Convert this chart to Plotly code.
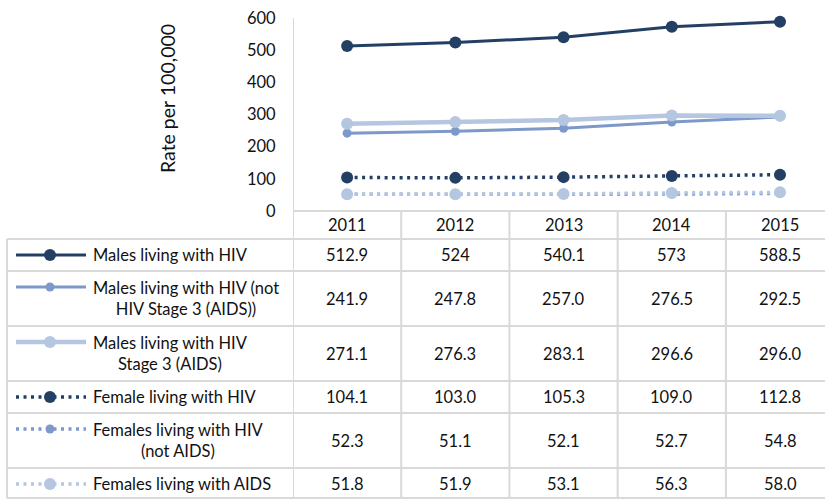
import plotly.graph_objects as go

# ---------------- data ----------------
years = ["2011", "2012", "2013", "2014", "2015"]
series_names = [
    "Males living with HIV",
    "Males living with HIV (not<br>HIV Stage 3 (AIDS))",
    "Males living with HIV<br>Stage 3 (AIDS)",
    "Female living with HIV",
    "Females living with HIV<br>(not AIDS)",
    "Females living with AIDS",
]
males_hiv = [512.9, 524, 540.1, 573, 588.5]
males_not_aids = [241.9, 247.8, 257.0, 276.5, 292.5]
males_aids = [271.1, 276.3, 283.1, 296.6, 296.0]
female_hiv = [104.1, 103.0, 105.3, 109.0, 112.8]
females_not_aids = [52.3, 51.1, 52.1, 52.7, 54.8]
females_aids = [51.8, 51.9, 53.1, 56.3, 58.0]
series_values = [males_hiv, males_not_aids, males_aids, female_hiv, females_not_aids, females_aids]
value_formats = ["{:g}", "{:.1f}", "{:.1f}", "{:.1f}", "{:.1f}", "{:.1f}"]
y_ticks = [0, 100, 200, 300, 400, 500, 600]

# ---------------- styles ----------------
DARK = "#243f64"
MID = "#7c99ca"
LIGHT = "#b5c6e1"
GRID = "#d9d9d9"
TXT = "#111111"
FONT = "Lato"
FS = 16.5

styles = [
    dict(color=DARK, width=3, dash="solid", msize=12),
    dict(color=MID, width=3, dash="solid", msize=9),
    dict(color=LIGHT, width=4.5, dash="solid", msize=12),
    dict(color=DARK, width=3.5, dash="3px,4.5px", msize=12),
    dict(color=MID, width=3.5, dash="3px,4.5px", msize=9),
    dict(color=LIGHT, width=3.5, dash="3px,4.5px", msize=12),
]

W, H = 825, 500
def px_x(x):
    return x / W
def px_y(y):
    return 1 - y / H

plot_left, plot_top, plot_bottom = 293, 18, 211
cat_w = 108.25
first_center = 347
x_hi = (W - first_center) / cat_w

fig = go.Figure()

# main lines
for name, vals, st in zip(series_names, series_values, styles):
    fig.add_trace(go.Scatter(
        x=list(range(len(years))), y=vals, mode="lines+markers", name=name.replace("<br>", " "),
        line=dict(color=st["color"], width=st["width"], dash=st["dash"]),
        marker=dict(color=st["color"], size=st["msize"]),
        cliponaxis=False, showlegend=False, hoverinfo="y",
        xaxis="x", yaxis="y",
    ))

# table geometry
table_left = 7
header_bottom = 239
row_tops = []
row_heights = []
cur = header_bottom
for name in series_names:
    n = name.count("<br>") + 1
    h = 32 + 23 * (n - 1)
    row_tops.append(cur)
    row_heights.append(h)
    cur += h
table_bottom = min(cur, 498)

shapes = []
line_style = dict(color=GRID, width=2)
# horizontal lines
shapes.append(dict(type="line", xref="paper", yref="paper",
                   x0=px_x(plot_left), x1=1, y0=px_y(plot_bottom), y1=px_y(plot_bottom), line=line_style))
for yb in [header_bottom] + [t + h for t, h in zip(row_tops, row_heights)]:
    yb = min(yb, table_bottom)
    shapes.append(dict(type="line", xref="paper", yref="paper",
                       x0=px_x(table_left), x1=1, y0=px_y(yb), y1=px_y(yb), line=line_style))
# left table border
shapes.append(dict(type="line", xref="paper", yref="paper",
                   x0=px_x(table_left), x1=px_x(table_left), y0=px_y(header_bottom), y1=px_y(table_bottom),
                   line=line_style))
# column separators (on category boundaries)
for i in range(len(years) + 1):
    shapes.append(dict(type="line", xref="x", yref="paper",
                       x0=i - 0.5, x1=i - 0.5, y0=px_y(table_bottom),
                       y1=px_y(plot_bottom if i > 0 else plot_top), line=line_style))

annotations = []
# header years
for i, yr in enumerate(years):
    annotations.append(dict(x=i, xref="x", y=px_y((plot_bottom + header_bottom) / 2), yref="paper",
                            text=yr, showarrow=False, xanchor="center", yanchor="middle",
                            font=dict(family=FONT, size=FS, color=TXT)))
# rows
for name, vals, fmt, st, top, h in zip(series_names, series_values, value_formats, styles, row_tops, row_heights):
    cy = top + h / 2
    key_y = cy if "<br>" not in name else top + 16
    annotations.append(dict(x=px_x(91), xref="paper", y=px_y(cy), yref="paper", text=name,
                            showarrow=False, xanchor="left", yanchor="middle", align="center",
                            font=dict(family=FONT, size=FS, color=TXT)))
    for i, v in enumerate(vals):
        annotations.append(dict(x=i, xref="x", y=px_y(cy), yref="paper", text=fmt.format(v),
                                showarrow=False, xanchor="center", yanchor="middle",
                                font=dict(family=FONT, size=FS, color=TXT)))
    # legend key
    fig.add_trace(go.Scatter(
        x=[16, 50, 86], y=[key_y, key_y, key_y], mode="lines",
        line=dict(color=st["color"], width=st["width"], dash=st["dash"]),
        showlegend=False, hoverinfo="skip", xaxis="x2", yaxis="y2",
    ))
    fig.add_trace(go.Scatter(
        x=[50], y=[key_y], mode="markers",
        marker=dict(color=st["color"], size=st["msize"]),
        showlegend=False, hoverinfo="skip", xaxis="x2", yaxis="y2",
    ))

# y axis title
annotations.append(dict(x=px_x(168), xref="paper", y=px_y(99), yref="paper", text="Rate per 100,000",
                        textangle=-90, showarrow=False, xanchor="center", yanchor="middle",
                        font=dict(family=FONT, size=19.5, color=TXT)))

fig.update_layout(
    width=W, height=H, autosize=False,
    margin=dict(l=0, r=0, t=0, b=0, pad=0),
    paper_bgcolor="white", plot_bgcolor="rgba(0,0,0,0)",
    showlegend=False,
    xaxis=dict(domain=[px_x(plot_left), 1], range=[-0.5, x_hi],
               showticklabels=False, showgrid=False, zeroline=False, showline=False, fixedrange=True),
    yaxis=dict(domain=[px_y(plot_bottom), px_y(plot_top)], range=[0, 600], tickvals=y_ticks,
               showgrid=False, zeroline=False, showline=False,
               ticks="outside", ticklen=13, tickcolor="rgba(0,0,0,0)", automargin=False,
               tickfont=dict(family=FONT, size=16.5, color=TXT), fixedrange=True),
    xaxis2=dict(domain=[0, 1], range=[0, W], visible=False, anchor="y2", fixedrange=True),
    yaxis2=dict(domain=[0, 1], range=[H, 0], visible=False, anchor="x2", fixedrange=True),
    shapes=shapes,
    annotations=annotations,
)

fig.write_html("out.html", config={"displayModeBar": False},
               post_script="document.body.style.margin='0px';document.body.style.overflow='hidden';")
